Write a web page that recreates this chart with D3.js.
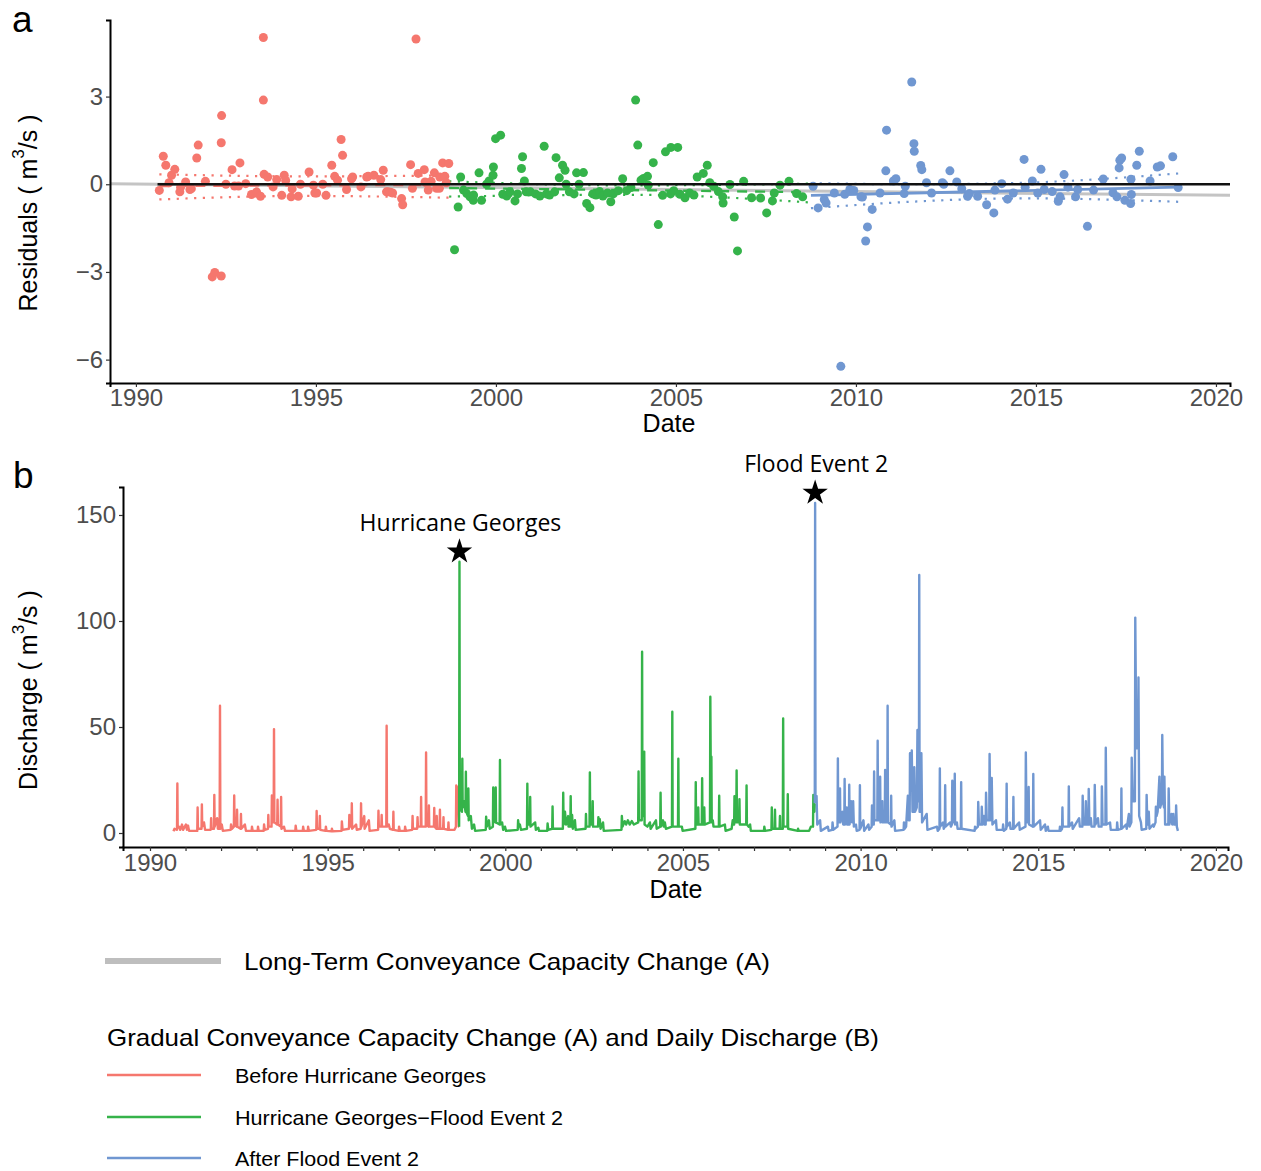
<!DOCTYPE html>
<html>
<head>
<meta charset="utf-8">
<script src="https://cdn.jsdelivr.net/npm/d3@7"></script>
<style>
  body { margin: 0; background: #fff; }
  text { font-family: "Liberation Sans", Arial, sans-serif; }
</style>
</head>
<body>
<svg id="chart" width="1261" height="1171"></svg>
<script>
// ---- Period labels and colours -------------------------------------------
const periods = ["Before Hurricane Georges", "Hurricane Georges\u2212Flood Event 2", "After Flood Event 2"];
const periodColors = ["#F5776E", "#35B34A", "#7097D1"];

// ---- Panel a: rating-curve residuals (decimal year, m3/s) ----------------
const residBefore = [
  [1990.65,-0.21],[1990.76,0.96],[1990.83,0.65],[1990.92,0.05],[1990.99,0.31],[1991.08,0.51],[1991.22,-0.26],[1991.24,-0.1],
  [1991.38,0.08],[1991.50,-0.18],[1991.54,-0.15],[1991.69,0.9],[1991.73,1.34],[1991.93,0.1],
  [1992.12,-3.17],[1992.19,-3.02],[1992.37,-3.14],[1992.37,1.42],[1992.38,2.35],[1992.50,0.0],[1992.67,0.5],[1992.74,-0.06],
  [1992.85,-0.06],[1992.89,0.73],[1993.05,0.02],[1993.21,-0.35],[1993.35,-0.26],[1993.46,-0.41],
  [1993.54,5.02],[1993.54,2.88],[1993.56,0.34],[1993.66,0.25],[1993.81,-0.09],[1993.91,0.16],[1994.05,-0.38],[1994.12,0.31],
  [1994.16,0.13],[1994.31,-0.43],[1994.34,-0.16],[1994.51,-0.41],[1994.57,0.0],[1994.81,0.42],[1994.93,-0.03],[1994.97,-0.3],[1995.02,-0.3],
  [1995.19,0.0],[1995.28,-0.38],[1995.44,0.65],[1995.52,0.27],[1995.60,0.14],[1995.70,1.53],[1995.74,0.99],[1995.85,-0.18],
  [1995.99,0.19],[1996.02,0.25],[1996.25,-0.09],[1996.41,0.25],[1996.45,0.27],[1996.61,0.31],[1996.80,0.16],[1996.87,0.48],
  [1996.96,-0.26],[1997.00,-0.26],[1997.07,-0.27],[1997.13,-0.3],
  [1997.38,-0.49],[1997.41,-0.7],[1997.63,0.67],[1997.68,-0.14],[1997.78,4.97],[1997.84,0.37],[1998.01,0.5],[1998.03,0.08],
  [1998.06,0.05],[1998.12,-0.2],[1998.20,0.1],[1998.29,0.39],[1998.35,-0.14],[1998.43,-0.14],[1998.44,0.25],[1998.52,0.73],
  [1998.58,0.27],[1998.62,0.05],[1998.69,0.71]
];
const residBetween = [
  [1998.85,-2.24],[1998.95,-0.78],[1999.02,0.25],[1999.10,-0.2],[1999.19,-0.32],[1999.28,-0.43],[1999.37,-0.55],[1999.38,-0.37],
  [1999.53,0.39],[1999.60,-0.55],[1999.74,0.0],[1999.81,0.11],[1999.92,0.31],[1999.93,0.59],[1999.99,1.56],[2000.13,1.68],
  [2000.19,-0.34],[2000.30,-0.4],[2000.39,-0.26],[2000.53,-0.57],[2000.60,-0.33],[2000.71,0.54],[2000.74,0.94],[2000.79,0.11],
  [2000.84,-0.26],[2000.96,-0.26],
  [2001.10,-0.33],[2001.22,-0.4],[2001.34,1.3],[2001.40,-0.33],[2001.49,-0.37],[2001.63,-0.26],[2001.67,0.91],[2001.76,0.22],
  [2001.85,0.65],[2001.92,0.48],[2001.95,0.0],[2002.04,-0.26],[2002.17,-0.33],[2002.24,0.39],[2002.31,0.0],[2002.43,0.4],
  [2002.52,-0.66],[2002.61,-0.8],[2002.69,-0.33],[2002.78,-0.37],[2002.88,-0.25],[2002.97,-0.4],
  [2003.10,-0.3],[2003.19,-0.6],[2003.26,-0.33],[2003.40,-0.22],[2003.52,0.19],[2003.63,-0.22],[2003.75,-0.11],[2003.88,2.88],
  [2003.94,1.34],[2004.03,0.14],[2004.10,0.2],[2004.21,0.27],[2004.23,-0.03],[2004.37,0.74],[2004.51,-1.38],[2004.63,-0.38],
  [2004.71,1.11],[2004.85,-0.33],[2004.86,1.26],[2004.94,-0.22],[2005.05,1.26],
  [2005.11,-0.34],[2005.25,-0.46],[2005.38,-0.3],[2005.50,-0.37],[2005.59,0.25],[2005.76,0.37],[2005.87,0.65],[2005.94,0.05],
  [2006.05,-0.07],[2006.18,-0.25],[2006.30,-0.43],[2006.31,-0.64],[2006.50,-0.01],[2006.62,-1.12],[2006.71,-2.28],[2006.88,0.1],
  [2007.10,-0.46],[2007.35,-0.47],[2007.52,-0.98],[2007.68,-0.57],[2007.73,-0.3],[2007.89,-0.03],[2008.14,0.1],[2008.35,-0.32],[2008.52,-0.43]
];
const residAfter = [
  [2008.81,-0.07],[2008.95,-0.81],[2009.12,-0.52],[2009.17,-0.64],[2009.40,-0.3],[2009.58,-6.23],[2009.69,-0.34],[2009.83,-0.18],
  [2009.94,-0.21],[2010.14,-0.43],[2010.18,-0.44],[2010.27,-1.94],[2010.32,-1.46],[2010.45,-0.86],[2010.67,-0.3],[2010.83,0.46],
  [2010.85,1.85],[2011.04,0.11],[2011.11,0.19],[2011.34,-0.32],[2011.37,-0.07],
  [2011.55,3.5],[2011.61,1.39],[2011.62,1.13],[2011.80,0.64],[2011.83,0.5],[2011.96,0.05],[2012.10,-0.3],[2012.40,0.05],
  [2012.44,0.0],[2012.61,0.46],[2012.80,0.08],[2012.94,-0.15],[2013.10,-0.41],[2013.15,-0.32],[2013.38,-0.41],[2013.63,-0.7],
  [2013.83,-0.98],[2013.86,-0.2],
  [2014.05,0.02],[2014.21,-0.51],[2014.37,-0.3],[2014.67,0.85],[2014.70,-0.1],[2014.90,0.11],[2015.05,-0.3],[2015.14,0.51],
  [2015.23,-0.18],[2015.45,-0.25],[2015.62,-0.58],[2015.67,-0.43],[2015.78,0.33],[2015.89,-0.1],[2016.10,-0.43],[2016.16,-0.18],
  [2016.43,-1.44],[2016.60,-0.2],[2016.87,0.18],
  [2017.14,-0.29],[2017.25,-0.43],[2017.31,0.56],[2017.33,0.82],[2017.38,0.9],[2017.47,-0.55],[2017.63,-0.66],[2017.64,0.17],
  [2017.65,-0.35],[2017.80,0.65],[2017.87,1.13],[2018.17,0.11],[2018.37,0.59],[2018.46,0.63],[2018.80,0.94],[2018.95,-0.11]
];

// Linear trends per period, with dotted confidence limits
const fitBefore  = [[1990.65,-0.06],[1998.69,-0.02]];
const upBefore   = [[1990.65,0.34],[1994.7,0.27],[1998.69,0.3]];
const loBefore   = [[1990.65,-0.52],[1994.7,-0.4],[1998.69,-0.46]];
const fitBetween = [[1998.7,-0.13],[2008.7,-0.27]];
const upBetween  = [[1998.7,0.1],[2003.7,-0.04],[2008.7,0.02]];
const loBetween  = [[1998.7,-0.42],[2003.7,-0.36],[2008.7,-0.62]];
const fitAfter   = [[2008.75,-0.38],[2018.95,-0.1]];
const upAfter    = [[2008.75,0.04],[2011.5,0.0],[2014.6,0.05],[2018.95,0.37]];
const loAfter    = [[2008.75,-0.82],[2011.5,-0.6],[2014.6,-0.48],[2018.95,-0.6]];

// Long-term trend over the full record, and the zero reference
const longTerm = [[1989.28,0.02],[2020.39,-0.38]];
const zeroLine = [[1990.6,0],[2020.39,0]];

// ---- Panel b: daily discharge (decimal year, m3/s) -----------------------
const qBefore = [
  [1990.66,0.8],[1990.69,2],[1990.76,1.5],[1990.77,23.4],[1990.78,2.5],[1990.82,3],[1990.85,1.5],[1990.90,4],[1990.93,1.5],
  [1991.01,4],[1991.04,1.5],[1991.07,3.5],[1991.10,1],
  [1991.33,1],[1991.34,12],[1991.35,2],[1991.45,2],[1991.46,13.5],[1991.47,3],[1991.52,5],[1991.55,1.5],
  [1991.71,1.5],[1991.72,7],[1991.73,2],[1991.80,2],[1991.81,18],[1991.82,3],[1991.89,7],[1991.91,2],[1991.96,2],[1991.97,60],
  [1991.98,2],[1992.02,4],[1992.05,1],
  [1992.27,1.5],[1992.28,4],[1992.31,2],[1992.36,3],[1992.37,17.7],[1992.38,4],[1992.44,3],[1992.45,11],[1992.46,3],[1992.55,2],
  [1992.56,9],[1992.57,2],[1992.67,4],[1992.70,1],
  [1992.86,1],[1992.87,3],[1992.89,1],[1993.03,1],[1993.04,3],[1993.06,1],[1993.20,1],[1993.21,4],[1993.23,1.5],
  [1993.32,2],[1993.33,8.5],[1993.34,3],[1993.42,3],[1993.43,17.7],[1993.44,5],[1993.48,5],[1993.49,49],[1993.50,5],[1993.58,4],
  [1993.59,15.7],[1993.60,4],[1993.68,3],[1993.69,17],[1993.70,2],[1993.77,3],[1993.80,1],
  [1994.09,1],[1994.10,3.5],[1994.12,1],[1994.30,1],[1994.31,3],[1994.33,1],[1994.44,1],[1994.45,3],[1994.47,1],
  [1994.68,1.5],[1994.69,10.4],[1994.70,2],[1994.77,2],[1994.78,8],[1994.79,1.5],[1994.94,1],[1994.95,3],[1994.97,1],
  [1995.11,0.8],[1995.12,2],[1995.14,0.8],
  [1995.39,1],[1995.40,5.5],[1995.42,1.5],[1995.60,2],[1995.61,8.5],[1995.62,3],[1995.67,3],[1995.68,14],[1995.69,2],[1995.80,4],
  [1995.82,1.5],[1995.93,2],[1995.94,14],[1995.95,3],[1996.03,8],[1996.04,2],[1996.16,6],[1996.18,1],
  [1996.42,1.5],[1996.43,10.5],[1996.44,3],[1996.51,3],[1996.52,8.5],[1996.53,3],[1996.65,3],[1996.66,50.6],[1996.67,3],[1996.72,4],
  [1996.75,2],[1996.84,1.5],[1996.85,10],[1996.86,1.5],
  [1997.00,1],[1997.01,3],[1997.03,1],[1997.17,1],[1997.18,3],[1997.20,1],
  [1997.38,1.5],[1997.39,8],[1997.40,2],[1997.52,2],[1997.53,7.5],[1997.54,3],[1997.62,3],[1997.63,17],[1997.64,3],[1997.76,3],
  [1997.77,38],[1997.78,4],[1997.84,3],[1997.85,13],[1997.86,3],[1997.99,3],[1998.00,11.8],[1998.01,3],[1998.06,2],[1998.07,8],
  [1998.08,2],[1998.15,2],[1998.16,11],[1998.17,2],[1998.25,2],[1998.26,7.5],[1998.27,2],[1998.39,1.5],[1998.40,5],[1998.41,1.5],
  [1998.57,1.5],[1998.61,3],[1998.62,22.4],[1998.66,21],[1998.69,3],[1998.70,3]
];
const qBetween = [
  [1998.70,3],[1998.71,128],[1998.72,12],[1998.78,10],[1998.79,35],[1998.80,12],[1998.84,15],[1998.88,10],[1998.89,28.9],
  [1998.90,10],[1998.95,8],[1998.96,21],[1998.97,6],[1999.03,8],[1999.06,2],[1999.12,4],[1999.15,1],
  [1999.45,1.5],[1999.46,7.7],[1999.48,3],[1999.54,6],[1999.56,2],[1999.65,3],[1999.66,21.5],[1999.68,6],[1999.72,5],[1999.73,21.5],
  [1999.74,5],[1999.84,4],[1999.85,34.4],[1999.86,4],[1999.91,5],[1999.94,1.5],[1999.99,3],[2000.02,1],
  [2000.35,1.5],[2000.36,6],[2000.38,3],[2000.41,4],[2000.44,1.5],[2000.61,2],[2000.62,23.3],[2000.63,4],[2000.69,4],[2000.70,17],
  [2000.71,3],[2000.84,5],[2000.86,1.5],[2000.93,2.5],[2000.95,1],
  [2001.18,1],[2001.19,4.5],[2001.21,1.5],[2001.32,2],[2001.33,12.5],[2001.34,2],[2001.62,2],[2001.63,19],[2001.64,4],[2001.68,10],
  [2001.71,4],[2001.77,8],[2001.78,3],[2001.83,3],[2001.84,17.4],[2001.85,3],[2001.88,8.5],[2001.90,2],[2001.96,6],[2001.98,1.5],
  [2002.26,2],[2002.27,9],[2002.28,3],[2002.37,3],[2002.38,28.6],[2002.39,4],[2002.45,4],[2002.46,15],[2002.47,3],[2002.61,3],
  [2002.62,7.5],[2002.64,4],[2002.66,6.5],[2002.68,2],[2002.75,5],[2002.77,1],
  [2003.27,1.5],[2003.28,8],[2003.30,3],[2003.36,5.6],[2003.40,4],[2003.45,6],[2003.50,4],[2003.56,5.6],[2003.62,4],[2003.74,5],
  [2003.75,29],[2003.76,6],[2003.84,6],[2003.85,85.5],[2003.86,8],[2003.90,8],[2003.91,38.4],[2003.92,4],[2004.00,3],[2004.07,5],
  [2004.09,2],[2004.24,6],[2004.26,2],
  [2004.36,3],[2004.37,19],[2004.38,3],[2004.44,6],[2004.46,3],[2004.49,5],[2004.52,2],[2004.69,3],[2004.70,57.2],[2004.71,3],
  [2004.86,3],[2004.87,35],[2004.88,3],[2004.97,3],[2004.99,1],
  [2005.35,2],[2005.36,24],[2005.37,4],[2005.42,4],[2005.43,12],[2005.44,4],[2005.53,4],[2005.54,25.8],[2005.55,4],[2005.59,4],
  [2005.60,12],[2005.61,4],[2005.76,5],[2005.77,64.3],[2005.79,8],[2005.80,36],[2005.81,5],[2005.84,6],[2005.86,3],[2006.01,3],
  [2006.02,17.6],[2006.03,3],[2006.18,4],[2006.20,1],
  [2006.37,2],[2006.40,6],[2006.44,4],[2006.45,17.4],[2006.46,5],[2006.50,5],[2006.51,29.5],[2006.52,5],[2006.58,5],[2006.59,16],
  [2006.60,4],[2006.78,4],[2006.79,22.4],[2006.80,4],[2006.85,3],[2006.89,4],[2006.91,1],
  [2007.28,1],[2007.29,3],[2007.31,1],[2007.49,1.5],[2007.50,12],[2007.51,2],[2007.58,2],[2007.59,11],[2007.60,2],[2007.72,2],
  [2007.73,8],[2007.74,2],[2007.81,2],[2007.82,54],[2007.83,3],[2007.94,3],[2007.95,18.3],[2007.96,2],
  [2008.23,1],[2008.24,2],[2008.26,1],[2008.55,1],[2008.60,3],[2008.66,3],[2008.67,18],[2008.70,10],[2008.71,14]
];
const qAfter = [
  [2008.71,14],[2008.72,155.7],[2008.73,17.5],[2008.76,17.5],[2008.78,4],[2008.86,6],[2008.88,1],[2009.08,3],[2009.10,1],
  [2009.20,1.5],[2009.21,5],[2009.23,1.5],
  [2009.35,3],[2009.36,35.2],[2009.37,5],[2009.41,5],[2009.42,21],[2009.43,5],[2009.49,10],[2009.51,4],[2009.54,4],[2009.55,25.5],
  [2009.56,4],[2009.61,12],[2009.62,4],[2009.67,4],[2009.68,22.8],[2009.69,4],[2009.73,15],[2009.76,5],[2009.79,15],[2009.81,3],
  [2009.87,4],[2009.89,1],
  [2009.97,1.5],[2009.98,22.5],[2009.99,2],[2010.08,6],[2010.10,1],[2010.22,4],[2010.24,1.5],[2010.31,3],[2010.32,13],[2010.33,4],
  [2010.37,4],[2010.38,29],[2010.39,6],[2010.47,6],[2010.48,43.5],[2010.49,6],[2010.54,6],[2010.55,26.5],[2010.56,5],[2010.61,15],
  [2010.62,5],[2010.68,5],[2010.69,29.7],[2010.70,5],[2010.75,5],[2010.76,60],[2010.77,5],[2010.85,4],[2010.86,17.6],[2010.87,3],
  [2010.95,6],[2010.97,1],
  [2011.21,1.5],[2011.22,5],[2011.24,2],[2011.28,3],[2011.33,17.6],[2011.35,6],[2011.38,6],[2011.39,37.6],[2011.41,20],[2011.43,20],
  [2011.44,38.9],[2011.46,10],[2011.50,10],[2011.51,31],[2011.53,10],[2011.58,12],[2011.60,48.6],[2011.62,15],[2011.64,15],
  [2011.65,121.7],[2011.66,10],[2011.70,10],[2011.71,37.6],[2011.73,5],[2011.86,9],[2011.88,1.5],
  [2012.15,3],[2012.17,1],[2012.22,2],[2012.23,30.5],[2012.24,3],[2012.32,5],[2012.34,2],[2012.37,3],[2012.38,22.5],[2012.39,3],
  [2012.52,5],[2012.54,3],[2012.57,4],[2012.58,24.7],[2012.60,5],[2012.64,5],[2012.65,28],[2012.66,4],[2012.71,5],[2012.73,2],
  [2012.82,2],[2012.83,24],[2012.84,2],
  [2013.21,1],[2013.22,3],[2013.24,2],[2013.30,3],[2013.31,14.6],[2013.33,4],[2013.40,4],[2013.41,12.4],[2013.43,4],[2013.47,8],
  [2013.49,4],[2013.52,4],[2013.53,19],[2013.55,6],[2013.62,6],[2013.63,37.3],[2013.65,6],[2013.68,8],[2013.69,26],[2013.71,4],
  [2013.81,6],[2013.83,1.5],
  [2014.00,1.5],[2014.01,4],[2014.03,1],[2014.10,2],[2014.11,23.3],[2014.12,3],[2014.20,5],[2014.22,2],[2014.29,2],[2014.30,17],
  [2014.31,2],[2014.46,5],[2014.48,1.5],[2014.64,3],[2014.65,38],[2014.67,5],[2014.72,5],[2014.73,21.7],[2014.74,4],[2014.85,3],
  [2014.86,27.8],[2014.87,3],[2015.05,6],[2015.07,1.5],[2015.19,4],[2015.21,1],[2015.27,3],[2015.29,1],
  [2015.60,1],[2015.61,3],[2015.63,1],[2015.67,2],[2015.68,12],[2015.69,3],[2015.85,3],[2015.86,22],[2015.87,3],[2015.95,5],
  [2015.97,2],[2016.15,7],[2016.17,3],[2016.24,3],[2016.25,17.6],[2016.27,4],[2016.33,4],[2016.34,15],[2016.36,4],[2016.41,4],
  [2016.42,20.8],[2016.44,4],[2016.48,7],[2016.50,3],[2016.58,3],[2016.59,22.7],[2016.61,4],[2016.68,7],[2016.70,3],[2016.78,3],
  [2016.79,22],[2016.81,4],[2016.89,4],[2016.90,40.2],[2016.92,4],[2017.02,5],[2017.04,1.5],
  [2017.21,1.5],[2017.22,5],[2017.24,1.5],[2017.33,2],[2017.34,21],[2017.35,2],[2017.47,4],[2017.49,2],[2017.55,9],[2017.57,3],
  [2017.62,5],[2017.63,35.5],[2017.66,15],[2017.72,15],[2017.73,101.6],[2017.76,40],[2017.81,40],[2017.82,73.4],[2017.84,8],
  [2017.89,5],[2017.91,1.5],
  [2018.04,2],[2018.05,18],[2018.07,4],[2018.11,10],[2018.13,2],[2018.23,4],[2018.25,3],[2018.30,5],[2018.31,12.4],[2018.33,8],
  [2018.36,10],[2018.41,26.6],[2018.43,12],[2018.48,15],[2018.49,46.2],[2018.51,15],[2018.54,12],[2018.55,26.6],[2018.57,4],
  [2018.66,4],[2018.67,21],[2018.69,4],[2018.75,9],[2018.77,4],[2018.80,9],[2018.82,4],[2018.87,4],[2018.88,13],[2018.90,3],[2018.93,1]
];

// Flood events marked with a star above the hydrograph
const eventNames = ["Hurricane Georges", "Flood Event 2"];
const eventDates = [1998.71, 2008.72];
const eventPeaks = [128, 155.7];

// Axis ticks
const yearTicks = [1990, 1995, 2000, 2005, 2010, 2015, 2020];
const residTicks = [-6, -3, 0, 3];
const flowTicks = [0, 50, 100, 150];

// ---------------------------------------------------------------------------
const svg = d3.select("#chart");
const minus = d => (d < 0 ? "\u2212" + Math.abs(d) : String(d));

function styleAxis(g) {
  g.select(".domain").attr("stroke", "#000").attr("stroke-width", 2);
  g.selectAll(".tick line").attr("stroke", "#333").attr("stroke-width", 1.2);
  g.selectAll(".tick text").attr("fill", "#4D4D4D").style("font-size", "24px")
    .style("font-family", '"Liberation Sans", Arial, sans-serif');
}

// ---------------- Panel a -------------------------------------------------
const xa = d3.scaleLinear().domain([1989.28, 2020.39]).range([110, 1230]);
const ya = d3.scaleLinear().domain([-6.8, 5.62]).range([383, 20]);
const lineA = d3.line().x(d => xa(d[0])).y(d => ya(d[1]));
const bandA = d3.line().x(d => xa(d[0])).y(d => ya(d[1])).curve(d3.curveMonotoneX);

const pa = svg.append("g");
const residSets = [residBefore, residBetween, residAfter];
const fitSets = [fitBefore, fitBetween, fitAfter];
const upSets = [upBefore, upBetween, upAfter];
const loSets = [loBefore, loBetween, loAfter];

// long-term trend
pa.append("path").datum(longTerm).attr("d", lineA)
  .attr("fill", "none").attr("stroke", "#C4C4C4").attr("stroke-width", 3);

// per-period trend and confidence limits
fitSets.forEach((f, i) => {
  [upSets[i], loSets[i]].forEach(b => {
    pa.append("path").datum(b).attr("d", bandA).attr("fill", "none")
      .attr("stroke", periodColors[i]).attr("stroke-width", 2.2)
      .attr("stroke-dasharray", "2.2,6.5");
  });
  pa.append("path").datum(f).attr("d", lineA).attr("fill", "none")
    .attr("stroke", periodColors[i]).attr("stroke-width", i === 2 ? 2.8 : 2.4)
    .attr("stroke-dasharray", i === 2 ? null : "10,8");
});

// residual points
residSets.forEach((s, i) => {
  pa.append("g").selectAll("circle").data(s).join("circle")
    .attr("cx", d => xa(d[0])).attr("cy", d => ya(d[1])).attr("r", 4.5)
    .attr("fill", periodColors[i]);
});

// zero reference
pa.append("path").datum(zeroLine).attr("d", lineA)
  .attr("fill", "none").attr("stroke", "#111").attr("stroke-width", 2.4);

pa.append("g").attr("transform", "translate(0,383)")
  .call(d3.axisBottom(xa).tickValues(yearTicks).tickFormat(d3.format("d")).tickSize(4).tickPadding(2))
  .call(styleAxis);
pa.append("g").attr("transform", "translate(110,0)")
  .call(d3.axisLeft(ya).tickValues(residTicks).tickFormat(minus).tickSize(4).tickPadding(3))
  .call(styleAxis);

pa.append("text").attr("x", 669).attr("y", 432).attr("text-anchor", "middle")
  .style("font-size", "25px").attr("fill", "#000").text("Date");
const yla = pa.append("text").attr("transform", "translate(28,213) rotate(-90)")
  .attr("text-anchor", "middle").attr("dominant-baseline", "central")
  .style("font-size", "25px").attr("fill", "#000");
yla.append("tspan").text("Residuals ( m");
yla.append("tspan").attr("dy", -10).style("font-size", "17px").text("3");
yla.append("tspan").attr("dy", 10).text("/s )");
svg.append("text").attr("x", 12).attr("y", 32).style("font-size", "37px").text("a");

// ---------------- Panel b -------------------------------------------------
const xb = d3.scaleLinear().domain([1989.24, 2020.34]).range([123, 1228]);
const yb = d3.scaleLinear().domain([-6.6, 163.2]).range([847, 487]);
const lineB = d3.line().x(d => xb(d[0])).y(d => yb(d[1]));
const pb = svg.append("g");

[qBefore, qBetween, qAfter].forEach((s, i) => {
  pb.append("path").datum(s).attr("d", lineB).attr("fill", "none")
    .attr("stroke", periodColors[i]).attr("stroke-width", 2.4)
    .attr("stroke-linejoin", "round");
});

eventNames.forEach((name, i) => {
  const cx = xb(eventDates[i]);
  const cy = yb(eventPeaks[i]);
  pb.append("path").attr("d", d3.symbol(d3.symbolStar, 200)())
    .attr("transform", `translate(${cx},${cy - 10})`).attr("fill", "#000");
  pb.append("text").attr("x", cx + 1).attr("y", cy - 31).attr("text-anchor", "middle")
    .style("font-family", '"Open Sans", "Noto Sans", sans-serif').style("font-size", "23px")
    .attr("fill", "#000").text(name);
});

pb.append("g").attr("transform", "translate(0,847)")
  .call(d3.axisBottom(xb).tickValues(d3.range(1990, 2021))
    .tickFormat(d => (d % 5 === 0 ? String(d) : "")).tickSize(4).tickPadding(3))
  .call(styleAxis);
pb.append("g").attr("transform", "translate(123,0)")
  .call(d3.axisLeft(yb).tickValues(flowTicks).tickFormat(d3.format("d")).tickSize(4).tickPadding(3))
  .call(styleAxis);

pb.append("text").attr("x", 676).attr("y", 898).attr("text-anchor", "middle")
  .style("font-size", "25px").attr("fill", "#000").text("Date");
const ylb = pb.append("text").attr("transform", "translate(28,690) rotate(-90)")
  .attr("text-anchor", "middle").attr("dominant-baseline", "central")
  .style("font-size", "25px").attr("fill", "#000");
ylb.append("tspan").text("Discharge ( m");
ylb.append("tspan").attr("dy", -10).style("font-size", "17px").text("3");
ylb.append("tspan").attr("dy", 10).text("/s )");
svg.append("text").attr("x", 13).attr("y", 488).style("font-size", "37px").text("b");

// ---------------- Legend --------------------------------------------------
const lg = svg.append("g");
lg.append("line").attr("x1", 105).attr("x2", 221).attr("y1", 961).attr("y2", 961)
  .attr("stroke", "#BEBEBE").attr("stroke-width", 6);
lg.append("text").attr("x", 244).attr("y", 970).style("font-size", "24px")
  .attr("textLength", 526).attr("lengthAdjust", "spacingAndGlyphs")
  .text("Long-Term Conveyance Capacity Change (A)");
lg.append("text").attr("x", 107).attr("y", 1046).style("font-size", "24px")
  .attr("textLength", 772).attr("lengthAdjust", "spacingAndGlyphs")
  .text("Gradual Conveyance Capacity Change (A) and Daily Discharge (B)");
const itemY = [1075, 1117, 1158];
const itemLen = [251, 328, 184];
periods.forEach((p, i) => {
  lg.append("line").attr("x1", 107).attr("x2", 201).attr("y1", itemY[i]).attr("y2", itemY[i])
    .attr("stroke", periodColors[i]).attr("stroke-width", 2.5);
  lg.append("text").attr("x", 235).attr("y", itemY[i] + 7.5).style("font-size", "21px")
    .attr("textLength", itemLen[i]).attr("lengthAdjust", "spacingAndGlyphs").text(p);
});
</script>
</body>
</html>
